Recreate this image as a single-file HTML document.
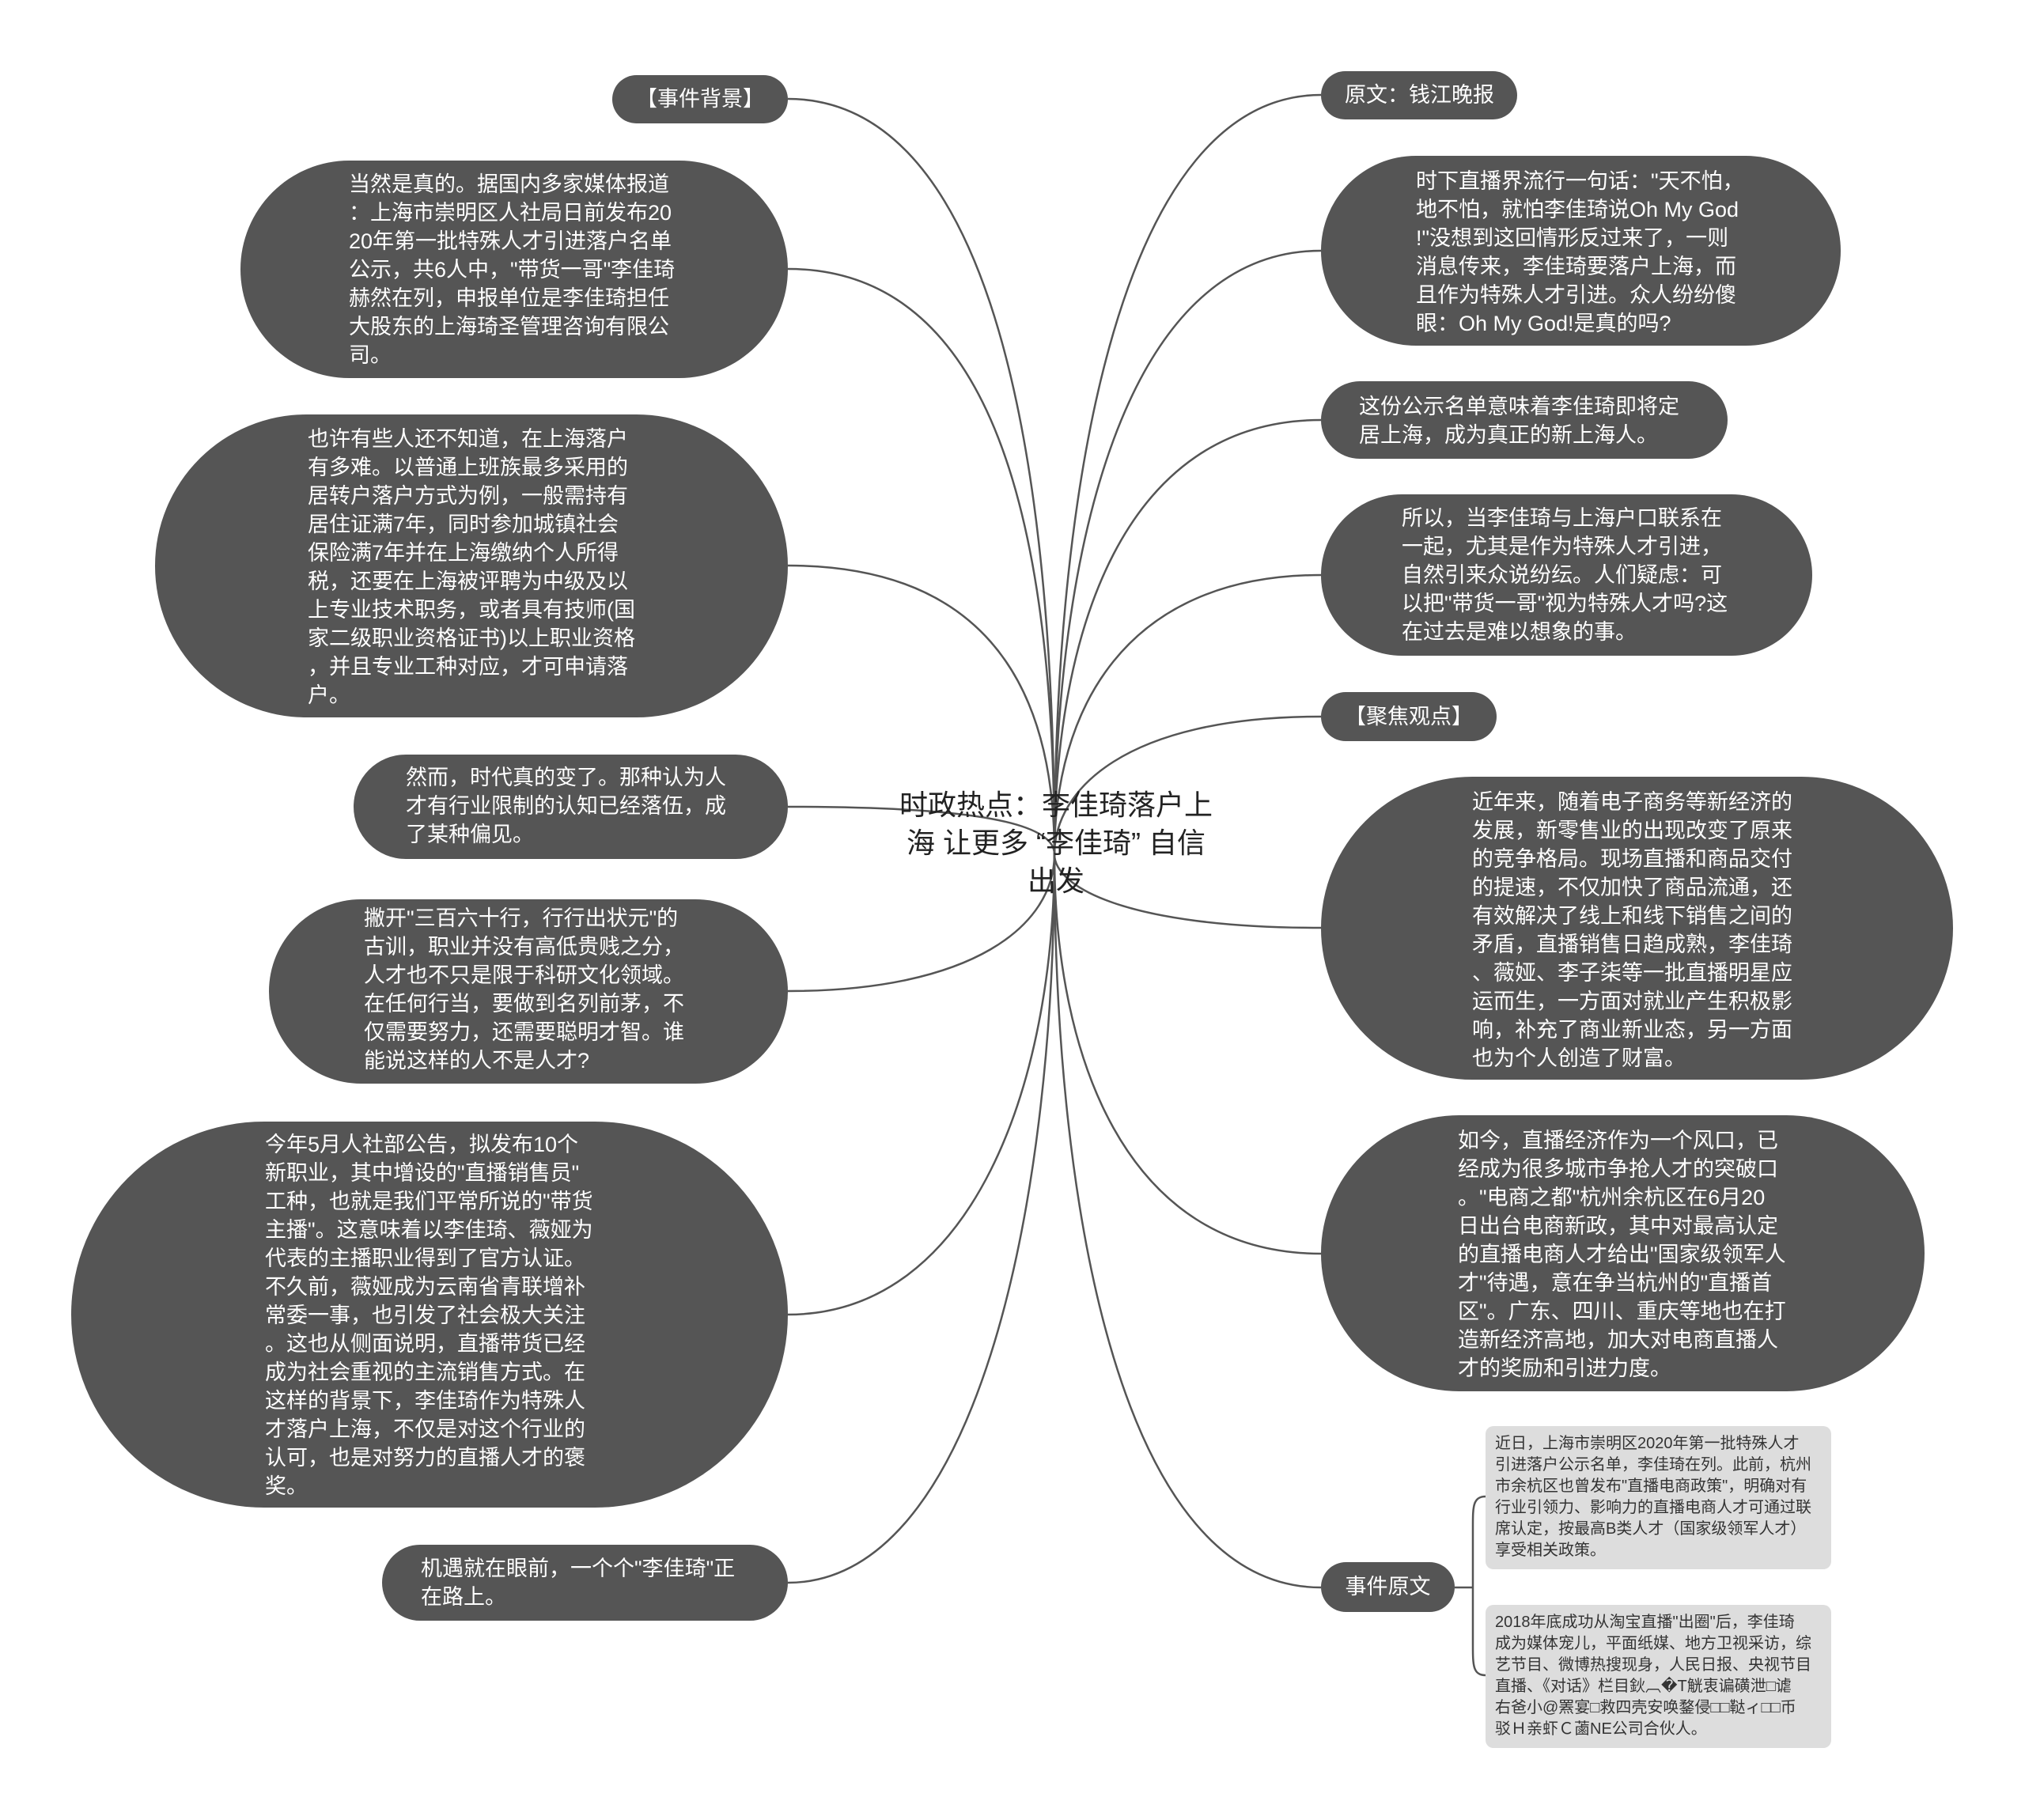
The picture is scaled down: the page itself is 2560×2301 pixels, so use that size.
<!DOCTYPE html>
<html><head><meta charset="utf-8"><style>
body{margin:0;width:2560px;height:2301px;background:#fff;position:relative;overflow:hidden;font-family:"Liberation Sans","Noto Sans CJK SC",sans-serif;}
.n{position:absolute;background:#555;}
.t{position:absolute;color:#fff;font-size:27px;line-height:36px;white-space:nowrap;}
.l{position:absolute;background:#ddd;border-radius:10px;}
.lt{position:absolute;color:#333;font-size:20px;line-height:27px;white-space:nowrap;}
</style></head><body>
<svg width="2560" height="2301" style="position:absolute;left:0;top:0" fill="none" stroke="#555" stroke-width="2.5">
<path d="M996 125 C1230 125 1333 500 1333 1080"/>
<path d="M996 340 C1230 340 1333 600 1333 1080"/>
<path d="M996 715 C1230 715 1333 850 1333 1080"/>
<path d="M996 1020 C1230 1020 1333 1040 1333 1080"/>
<path d="M996 1253 C1230 1253 1333 1170 1333 1080"/>
<path d="M996 1662 C1230 1662 1333 1370 1333 1080"/>
<path d="M996 2001 C1230 2001 1333 1540 1333 1080"/>
<path d="M1670 120 C1420 120 1333 600 1333 1080"/>
<path d="M1670 317 C1420 317 1333 700 1333 1080"/>
<path d="M1670 531 C1420 531 1333 800 1333 1080"/>
<path d="M1670 727 C1420 727 1333 900 1333 1080"/>
<path d="M1670 906 C1420 906 1333 1000 1333 1080"/>
<path d="M1670 1173 C1420 1173 1333 1120 1333 1080"/>
<path d="M1670 1585 C1420 1585 1333 1330 1333 1080"/>
<path d="M1670 2007 C1420 2007 1333 1540 1333 1080"/>
<path d="M1839 2007 H1862"/>
<path d="M1878 1892 C1862 1892 1862 1905 1862 1930 V2080 C1862 2105 1862 2118 1878 2118"/>
</svg>

<div style="position:absolute;left:1100px;top:994px;width:470px;text-align:center;font-size:36px;line-height:48px;color:#222;">时政热点：李佳琦落户上<br>海 让更多 “李佳琦” 自信<br>出发</div>

<div class="n" style="left:774px;top:95px;width:222px;height:61px;border-radius:31px"></div>
<div class="t" style="left:774px;top:107px;width:222px;text-align:center">【事件背景】</div>

<div class="n" style="left:304px;top:203px;width:692px;height:275px;border-radius:138px"></div>
<div class="t" style="left:441px;top:215px">当然是真的。据国内多家媒体报道<br>：上海市崇明区人社局日前发布20<br>20年第一批特殊人才引进落户名单<br>公示，共6人中，"带货一哥"李佳琦<br>赫然在列，申报单位是李佳琦担任<br>大股东的上海琦圣管理咨询有限公<br>司。</div>

<div class="n" style="left:196px;top:524px;width:800px;height:383px;border-radius:192px"></div>
<div class="t" style="left:389px;top:537px">也许有些人还不知道，在上海落户<br>有多难。以普通上班族最多采用的<br>居转户落户方式为例，一般需持有<br>居住证满7年，同时参加城镇社会<br>保险满7年并在上海缴纳个人所得<br>税，还要在上海被评聘为中级及以<br>上专业技术职务，或者具有技师(国<br>家二级职业资格证书)以上职业资格<br>，并且专业工种对应，才可申请落<br>户。</div>

<div class="n" style="left:447px;top:954px;width:549px;height:132px;border-radius:66px"></div>
<div class="t" style="left:513px;top:965px">然而，时代真的变了。那种认为人<br>才有行业限制的认知已经落伍，成<br>了某种偏见。</div>

<div class="n" style="left:340px;top:1137px;width:656px;height:233px;border-radius:117px"></div>
<div class="t" style="left:460px;top:1143px">撇开"三百六十行，行行出状元"的<br>古训，职业并没有高低贵贱之分，<br>人才也不只是限于科研文化领域。<br>在任何行当，要做到名列前茅，不<br>仅需要努力，还需要聪明才智。谁<br>能说这样的人不是人才?</div>

<div class="n" style="left:90px;top:1418px;width:906px;height:488px;border-radius:244px"></div>
<div class="t" style="left:335px;top:1429px">今年5月人社部公告，拟发布10个<br>新职业，其中增设的"直播销售员"<br>工种，也就是我们平常所说的"带货<br>主播"。这意味着以李佳琦、薇娅为<br>代表的主播职业得到了官方认证。<br>不久前，薇娅成为云南省青联增补<br>常委一事，也引发了社会极大关注<br>。这也从侧面说明，直播带货已经<br>成为社会重视的主流销售方式。在<br>这样的背景下，李佳琦作为特殊人<br>才落户上海，不仅是对这个行业的<br>认可，也是对努力的直播人才的褒<br>奖。</div>

<div class="n" style="left:483px;top:1953px;width:513px;height:96px;border-radius:48px"></div>
<div class="t" style="left:532px;top:1965px">机遇就在眼前，一个个"李佳琦"正<br>在路上。</div>

<div class="n" style="left:1670px;top:90px;width:248px;height:61px;border-radius:31px"></div>
<div class="t" style="left:1700px;top:102px">原文：钱江晚报</div>

<div class="n" style="left:1670px;top:197px;width:657px;height:240px;border-radius:120px"></div>
<div class="t" style="left:1790px;top:211px">时下直播界流行一句话："天不怕，<br>地不怕，就怕李佳琦说Oh My God<br>!"没想到这回情形反过来了，一则<br>消息传来，李佳琦要落户上海，而<br>且作为特殊人才引进。众人纷纷傻<br>眼：Oh My God!是真的吗?</div>

<div class="n" style="left:1670px;top:482px;width:514px;height:98px;border-radius:49px"></div>
<div class="t" style="left:1718px;top:496px">这份公示名单意味着李佳琦即将定<br>居上海，成为真正的新上海人。</div>

<div class="n" style="left:1670px;top:625px;width:621px;height:204px;border-radius:102px"></div>
<div class="t" style="left:1772px;top:637px">所以，当李佳琦与上海户口联系在<br>一起，尤其是作为特殊人才引进，<br>自然引来众说纷纭。人们疑虑：可<br>以把"带货一哥"视为特殊人才吗?这<br>在过去是难以想象的事。</div>

<div class="n" style="left:1670px;top:875px;width:222px;height:62px;border-radius:31px"></div>
<div class="t" style="left:1670px;top:888px;width:222px;text-align:center">【聚焦观点】</div>

<div class="n" style="left:1670px;top:982px;width:799px;height:383px;border-radius:192px"></div>
<div class="t" style="left:1861px;top:996px">近年来，随着电子商务等新经济的<br>发展，新零售业的出现改变了原来<br>的竞争格局。现场直播和商品交付<br>的提速，不仅加快了商品流通，还<br>有效解决了线上和线下销售之间的<br>矛盾，直播销售日趋成熟，李佳琦<br>、薇娅、李子柒等一批直播明星应<br>运而生，一方面对就业产生积极影<br>响，补充了商业新业态，另一方面<br>也为个人创造了财富。</div>

<div class="n" style="left:1670px;top:1410px;width:763px;height:349px;border-radius:175px"></div>
<div class="t" style="left:1843px;top:1424px">如今，直播经济作为一个风口，已<br>经成为很多城市争抢人才的突破口<br>。"电商之都"杭州余杭区在6月20<br>日出台电商新政，其中对最高认定<br>的直播电商人才给出"国家级领军人<br>才"待遇，意在争当杭州的"直播首<br>区"。广东、四川、重庆等地也在打<br>造新经济高地，加大对电商直播人<br>才的奖励和引进力度。</div>

<div class="n" style="left:1670px;top:1975px;width:169px;height:63px;border-radius:32px"></div>
<div class="t" style="left:1670px;top:1988px;width:169px;text-align:center">事件原文</div>

<div class="l" style="left:1878px;top:1803px;width:437px;height:181px"></div>
<div class="lt" style="left:1890px;top:1812px">近日，上海市崇明区2020年第一批特殊人才<br>引进落户公示名单，李佳琦在列。此前，杭州<br>市余杭区也曾发布"直播电商政策"，明确对有<br>行业引领力、影响力的直播电商人才可通过联<br>席认定，按最高B类人才（国家级领军人才）<br>享受相关政策。</div>

<div class="l" style="left:1878px;top:2029px;width:437px;height:181px"></div>
<div class="lt" style="left:1890px;top:2038px">2018年底成功从淘宝直播"出圈"后，李佳琦<br>成为媒体宠儿，平面纸媒、地方卫视采访，综<br>艺节目、微博热搜现身，人民日报、央视节目<br>直播、《对话》栏目鈥︹�T觥衷谝磺泄□谑<br>右爸小@罴宴□救四壳安唤鍪侵□□鞑ィ□□币<br>驳Ｈ亲虾Ｃ蓾NE公司合伙人。</div>
</body></html>
